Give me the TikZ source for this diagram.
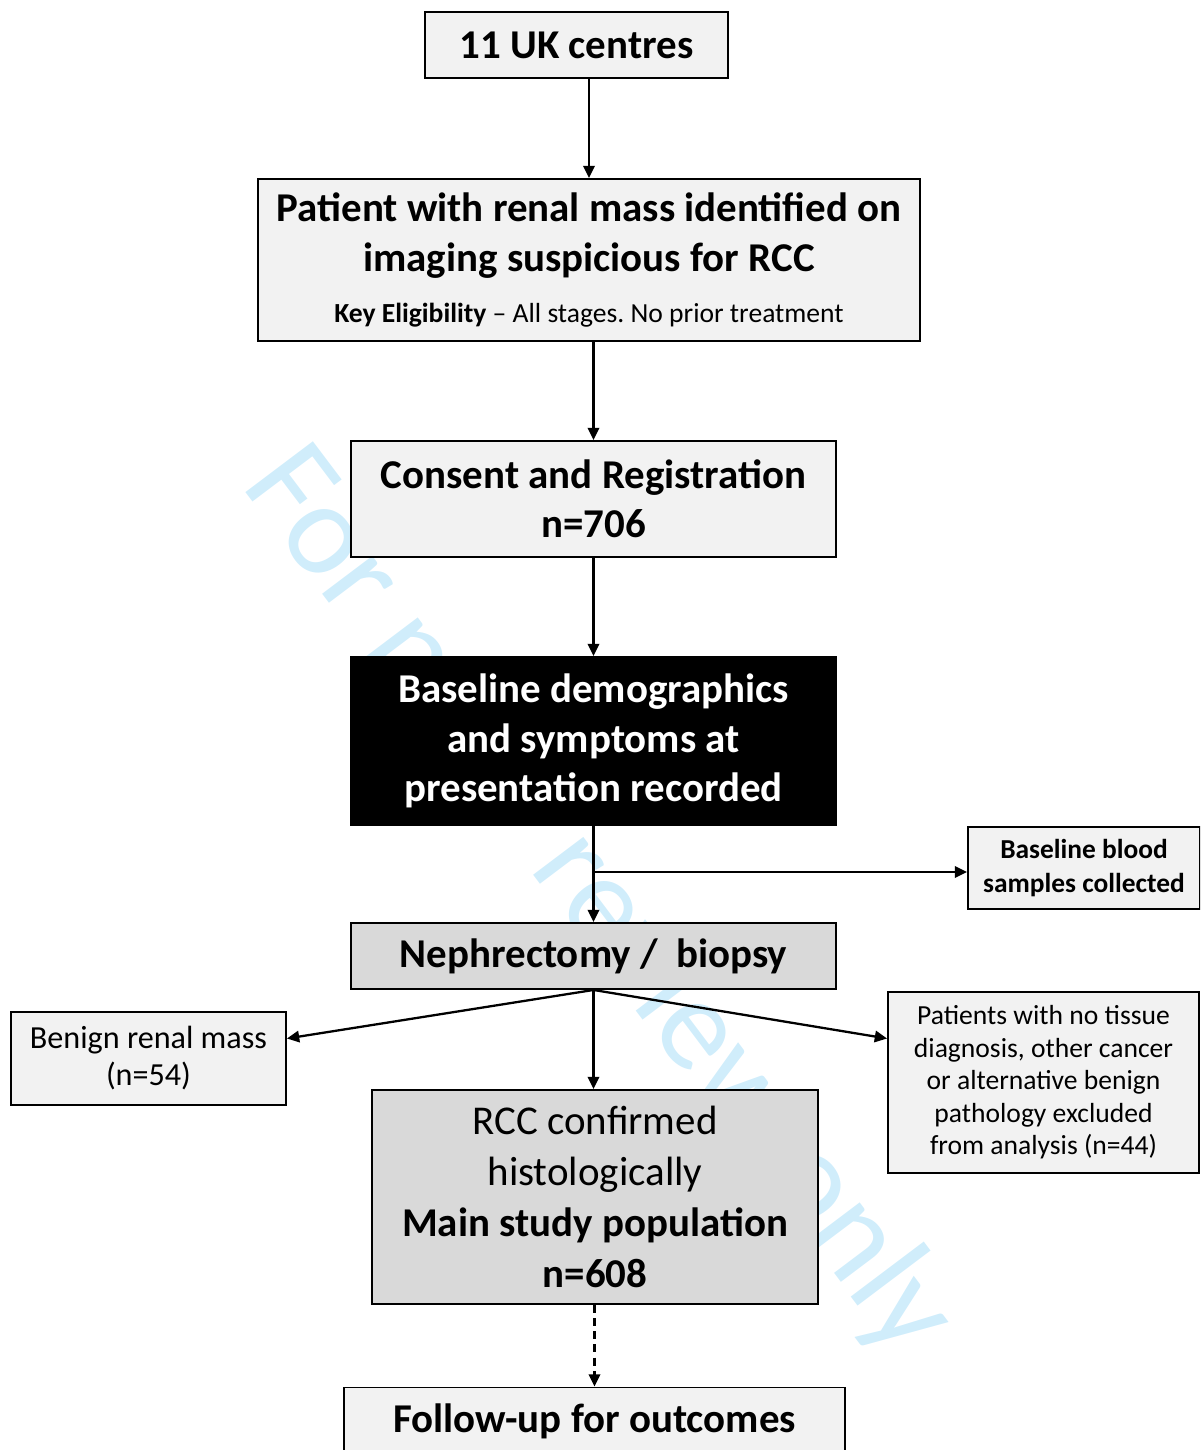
\documentclass[tikz,border=0pt]{standalone}
\usepackage{fontspec}
\setmainfont{Carlito}
\usetikzlibrary{arrows.meta, positioning}
\definecolor{boxlight}{HTML}{F2F2F2}
\definecolor{boxgrey}{HTML}{D9D9D9}
\definecolor{wmcyan}{RGB}{208,237,251}
\newcommand{\fsHead}{\fontsize{23.3}{28}\selectfont}
\newcommand{\fsMid}{\fontsize{18.3}{21}\selectfont}
\newcommand{\fsSmall}{\fontsize{15.7}{18.5}\selectfont}
\newcommand{\fsBlood}{\fontsize{15.6}{19.3}\selectfont}
\frenchspacing

\begin{document}
\begin{tikzpicture}[
  x=0.02cm, y=-0.02cm,
  >={Triangle[length=7pt,width=6.5pt]},
  conn/.style={->, line width=1.3pt},
  box/.style={rectangle, draw, line width=1.1pt, fill=boxlight, align=center, inner sep=2pt},
  greybox/.style={box, fill=boxgrey},
  blackbox/.style={box, fill=black, text=white},
  wmtext/.style={text=wmcyan, rotate=-53, font=\fontsize{75}{80}\selectfont}
]
\useasboundingbox (0,0) rectangle (1200,1450);
\clip (0,0) rectangle (1200,1450);

% watermark behind the boxes
\node[wmtext] (wm) at (598,902) {For peer review only};

% main column
\node[box, font=\fsHead\bfseries, minimum width=6.06cm, minimum height=1.32cm] (uk) at (576.5,45) {11 UK centres};
\node[box, font=\fsHead\bfseries, minimum width=13.24cm, minimum height=3.24cm] (patient) at (589,260)
  {Patient with renal mass identified on\\ imaging suspicious for RCC\\[1pt]
   \fsSmall Key Eligibility \mdseries – All stages. No prior treatment};
\node[box, font=\fsHead\bfseries, minimum width=9.7cm, minimum height=2.32cm] (consent) at (593.5,499)
  {Consent and Registration\\ n=706};
\node[blackbox, font=\fsHead\bfseries, minimum width=9.7cm, minimum height=3.36cm] (baseline) at (593.5,741)
  {Baseline demographics\\ and symptoms at\\ presentation recorded};
\node[box, font=\fsBlood\bfseries, minimum width=4.64cm, minimum height=1.64cm] (blood) at (1084,868)
  {Baseline blood\\ samples collected};
\node[greybox, font=\fsHead\bfseries, minimum width=9.7cm, minimum height=1.32cm] (neph) at (593.5,956)
  {Nephrectomy /\ \ biopsy};

% outcome boxes
\node[box, font=\fsMid, minimum width=5.5cm, minimum height=1.86cm] (benign) at (148.5,1058.5)
  {Benign renal mass\\ (n=54)};
\node[box, font=\fsSmall, minimum width=6.22cm, minimum height=3.62cm] (excluded) at (1043.5,1082.5)
  {Patients with no tissue\\ diagnosis, other cancer\\ or alternative benign\\ pathology excluded\\ from analysis (n=44)};
\node[greybox, font=\fontsize{23.3}{29}\selectfont, minimum width=8.92cm, minimum height=4.28cm] (rcc) at (595,1197)
  {RCC confirmed\\ histologically\\ \bfseries Main study population\\ \bfseries n=608};
\node[box, font=\fsHead\bfseries, minimum width=10.02cm, minimum height=1.34cm] (followup) at (594.5,1421)
  {Follow-up for outcomes};

% arrow ends off the node centres
\coordinate (bloodin) at ([yshift=-0.08cm]blood.west);
\coordinate (benignin) at ([yshift=0.4cm]benign.east);
\coordinate (exclin) at ([yshift=0.88cm]excluded.west);

% connectors
\draw[conn] (uk.south -| patient.north) -- (patient.north);
\draw[conn] (patient.south -| consent.north) -- (consent.north);
\draw[conn] (consent) -- (baseline);
\draw[conn] (baseline) -- (neph);
\draw[conn] (baseline.south |- bloodin) -- (bloodin);
\draw[conn] (neph.south) -- (benignin);
\draw[conn] (neph.south) -- (neph.south |- rcc.north);
\draw[conn] (neph.south) -- (exclin);
\draw[conn, dash pattern=on 4.5pt off 3pt] (rcc.south -| followup.north) -- (followup.north);
\end{tikzpicture}
\end{document}
